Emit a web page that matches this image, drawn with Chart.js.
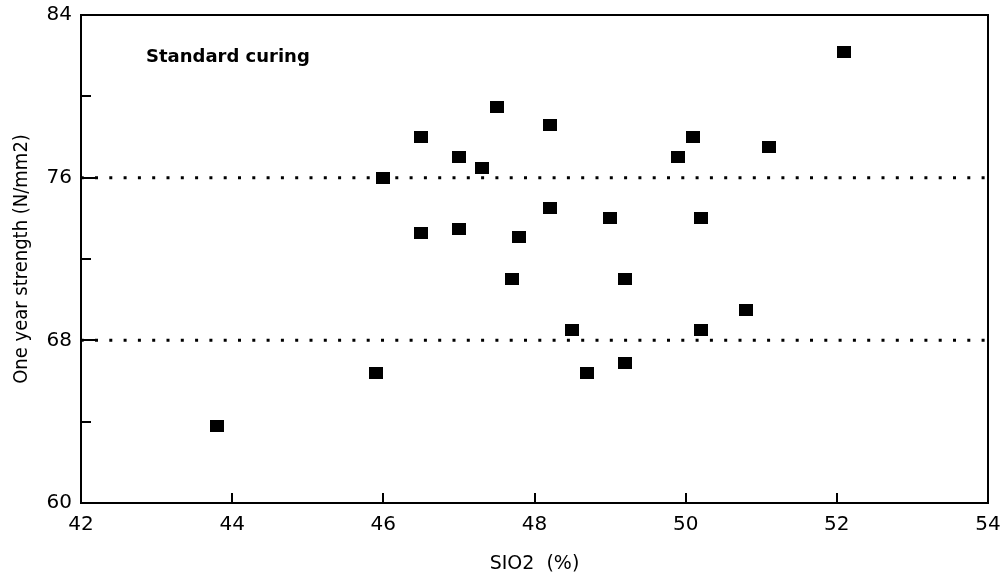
<!DOCTYPE html>
<html>
<head>
<meta charset="utf-8">
<script src="https://cdn.jsdelivr.net/npm/chart.js@4/dist/chart.umd.min.js"></script>
<style>
  html, body { margin: 0; padding: 0; background: #fff; }
</style>
</head>
<body>
<canvas id="chart" width="1004" height="574"></canvas>
<script>
(function(){
  // SiO2 content (%) and one year strength (N/mm2)
  const silica   = [43.8, 45.9, 46.0, 46.5, 46.5, 47.0, 47.0, 47.3, 47.5, 47.7, 47.8, 48.2, 48.2,
                    48.5, 48.7, 49.0, 49.2, 49.2, 49.9, 50.1, 50.2, 50.2, 50.8, 51.1, 52.1]
  const strength = [63.8, 66.4, 76.0, 78.0, 73.3, 77.0, 73.5, 76.5, 79.5, 71.0, 73.1, 78.6, 74.5,
                    68.5, 66.4, 74.0, 71.0, 66.9, 77.0, 78.0, 74.0, 68.5, 69.5, 77.5, 82.2]

  // axes
  const xTicks   = [42, 44, 46, 48, 50, 52, 54]
  const yTicks   = [60, 64, 68, 72, 76, 80, 84]
  const yLabeled = [60, 68, 76, 84]
  const limits   = [76, 68]

  const FONT = '"DejaVu Sans", sans-serif'

  // solid black marker, a touch wider than tall
  const marker = document.createElement('canvas')
  marker.width = 14; marker.height = 12
  const mctx = marker.getContext('2d')
  mctx.fillStyle = '#000'
  mctx.fillRect(0, 0, 14, 12)

  const points = silica.map((x, i) => ({ x, y: strength[i] }))

  const limitSets = limits.map(v => ({
    type: 'line',
    data: [{ x: xTicks[0], y: v }, { x: xTicks[xTicks.length - 1], y: v }],
    borderColor: '#000',
    borderWidth: 3,
    borderDash: [3, 11.3],
    borderDashOffset: -14,
    pointRadius: 0,
    fill: false
  }))

  // frame, inward tick marks and the panel note
  const frame = {
    id: 'frame',
    afterDraw(chart){
      const { ctx, chartArea: a, scales } = chart
      ctx.save()
      ctx.strokeStyle = '#000'
      ctx.lineWidth = 2
      ctx.strokeRect(a.left, a.top, a.right - a.left, a.bottom - a.top)

      ctx.beginPath()
      yTicks.forEach(v => {
        const y = Math.round(scales.y.getPixelForValue(v))
        const len = yLabeled.includes(v) ? 16 : 10
        ctx.moveTo(a.left, y); ctx.lineTo(a.left + len, y)
      })
      xTicks.forEach(v => {
        const x = Math.round(scales.x.getPixelForValue(v))
        ctx.moveTo(x, a.bottom); ctx.lineTo(x, a.bottom - 10)
      })
      ctx.stroke()

      ctx.fillStyle = '#000'
      ctx.font = 'bold 18px ' + FONT
      ctx.textBaseline = 'middle'
      ctx.textAlign = 'left'
      ctx.fillText('Standard curing', scales.x.getPixelForValue(42.86), scales.y.getPixelForValue(81.9))
      ctx.restore()
    }
  }

  new Chart(document.getElementById('chart'), {
    type: 'scatter',
    data: {
      datasets: [{
        data: points,
        pointStyle: marker,
        pointRadius: 7,
        pointHoverRadius: 7
      }].concat(limitSets)
    },
    plugins: [frame],
    options: {
      responsive: false,
      animation: false,
      events: [],
      layout: { padding: { top: 15, right: 16, left: 0, bottom: 0 } },
      plugins: { legend: { display: false }, tooltip: { enabled: false } },
      scales: {
        x: {
          type: 'linear',
          min: 42, max: 54,
          afterFit(s){ s.height = 71; s.paddingLeft = 0; s.paddingRight = 0 },
          afterBuildTicks(s){ s.ticks = xTicks.map(v => ({ value: v })) },
          grid: { display: false, drawTicks: false },
          border: { display: true, color: '#000', width: 2 },
          ticks: {
            color: '#000',
            padding: 10,
            maxRotation: 0,
            font: { family: FONT, size: 20 }
          },
          title: {
            display: true,
            text: 'SIO2  (%)',
            color: '#000',
            padding: { top: 0, bottom: 0 },
            font: { family: FONT, size: 19, lineHeight: 1 }
          }
        },
        y: {
          type: 'linear',
          min: 60, max: 84,
          afterFit(s){ s.width = 81; s.paddingTop = 0; s.paddingBottom = 0 },
          afterBuildTicks(s){ s.ticks = yTicks.map(v => ({ value: v })) },
          grid: { display: false, drawTicks: false },
          border: { display: true, color: '#000', width: 2 },
          ticks: {
            color: '#000',
            padding: 9,
            font: { family: FONT, size: 20 },
            callback: v => yLabeled.includes(v) ? String(v) : ''
          },
          title: {
            display: true,
            text: 'One year strength (N/mm2)',
            color: '#000',
            padding: { top: 10, bottom: 0 },
            font: { family: '"Liberation Sans Narrow", "DejaVu Sans Condensed", sans-serif', size: 20 }
          }
        }
      }
    }
  })
})();
</script>
</body>
</html>
